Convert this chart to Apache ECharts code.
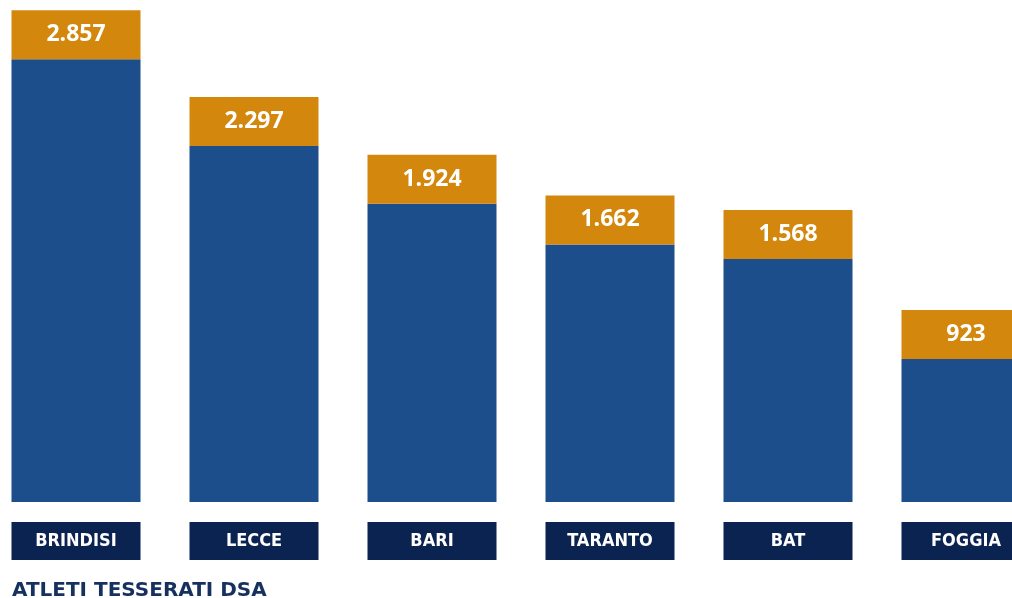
<!DOCTYPE html>
<html>
<head>
<meta charset="utf-8">
<script src="https://cdn.jsdelivr.net/npm/echarts@6/dist/echarts.min.js"></script>
<style>
  html, body { margin: 0; padding: 0; background: #fff; overflow: hidden; }
  /* the last bar runs off the right edge in the original, so the chart is wider than the page */
  #chart { width: 1068px; height: 598px; margin-left: -13px; }
</style>
</head>
<body>
<div id="chart"></div>
<script>
const provinces = ['BRINDISI', 'LECCE', 'BARI', 'TARANTO', 'BAT', 'FOGGIA'];
const athletes = [2857, 2297, 1924, 1662, 1568, 923];
const title = 'ATLETI TESSERATI DSA';

// colours / sizes
const BLUE = '#1c4e8c';
const ORANGE = '#d3870c';
const NAVY = '#0b2350';
const BAR_W = 129;
const CAP_H = 49;

function fmt(v) {
  return String(v).replace(/\B(?=(\d{3})+(?!\d))/g, '.');
}

const chart = echarts.init(document.getElementById('chart'));

chart.setOption({
  animation: false,
  title: {
    text: title,
    left: 25,
    top: 581,
    padding: 0,
    textStyle: {
      fontFamily: 'DejaVu Sans',
      fontWeight: 'bold',
      fontSize: 20,
      color: '#17315f',
    },
  },
  grid: {
    left: 0,
    right: 0,
    top: 6,
    bottom: 96,
  },
  xAxis: {
    type: 'category',
    data: provinces,
    axisLine: { show: false },
    axisTick: { show: false },
    axisLabel: {
      interval: 0,
      margin: 20,
      width: BAR_W,
      height: 38,
      lineHeight: 38,
      align: 'center',
      backgroundColor: NAVY,
      color: '#fff',
      fontFamily: '"DejaVu Sans Condensed", "DejaVu Sans", sans-serif',
      fontWeight: 'bold',
      fontSize: 18,
    },
  },
  yAxis: {
    type: 'value',
    min: 0,
    max: 3200,
    show: false,
    splitLine: { show: false },
  },
  series: [
    {
      type: 'custom',
      data: athletes,
      clip: false,
      renderItem: function (params, api) {
        const i = api.value(0);
        const base = api.coord([i, 0]);
        const top = api.coord([i, api.value(1)]);
        const x = base[0] - BAR_W / 2;
        return {
          type: 'group',
          children: [
            {
              type: 'rect',
              shape: { x: x, y: top[1], width: BAR_W, height: base[1] - top[1] },
              style: { fill: BLUE },
            },
            {
              type: 'rect',
              shape: { x: x, y: top[1] - CAP_H, width: BAR_W, height: CAP_H },
              style: { fill: ORANGE },
            },
            {
              type: 'text',
              x: base[0],
              y: top[1] - CAP_H / 2,
              style: {
                text: fmt(api.value(1)),
                fill: '#fff',
                align: 'center',
                verticalAlign: 'middle',
                fontFamily: 'Open Sans',
                fontWeight: 'bold',
                fontSize: 23,
              },
            },
          ],
        };
      },
    },
  ],
});
</script>
</body>
</html>
